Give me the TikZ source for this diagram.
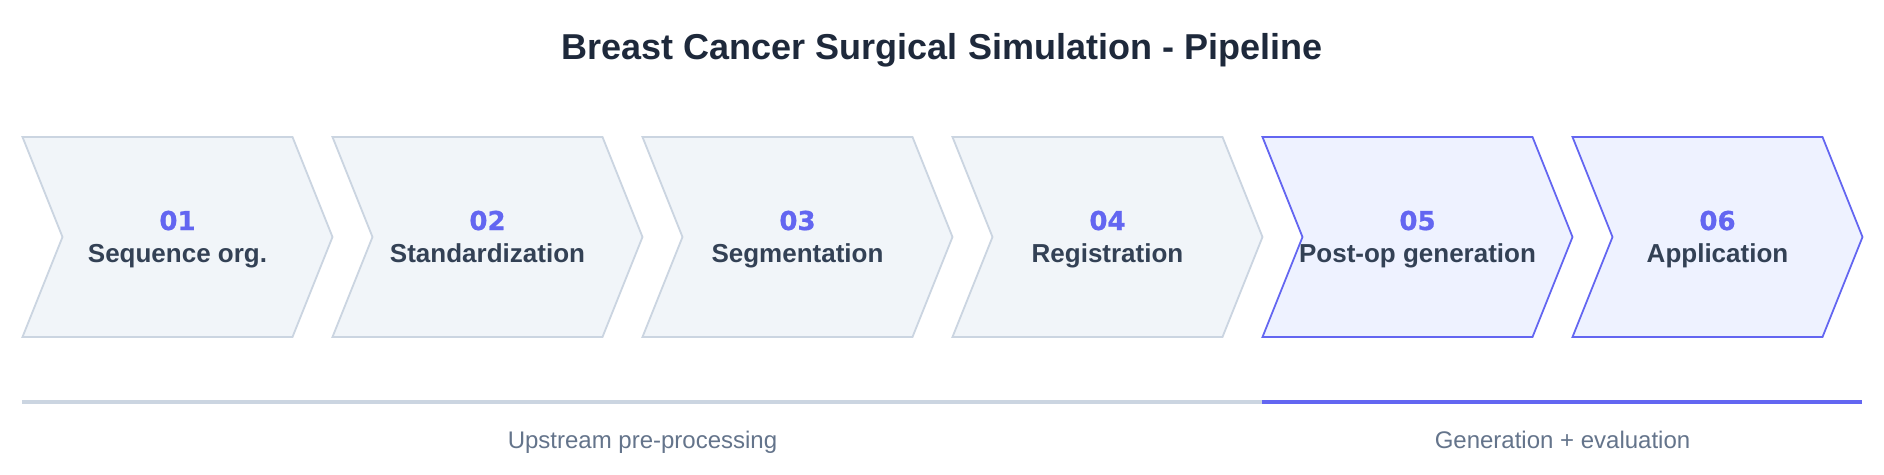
\documentclass[tikz,border=0pt]{standalone}
\usepackage{fontspec}
\setmainfont{Liberation Sans}
\newfontfamily\numfont[BoldFeatures={FakeBold=0.8}]{DejaVu Sans}
\definecolor{titlec}{HTML}{1E293B}
\definecolor{labelc}{HTML}{334155}
\definecolor{subc}{HTML}{64748B}
\definecolor{greyfill}{HTML}{F1F5F9}
\definecolor{greyline}{HTML}{CBD5E1}
\definecolor{bluefill}{HTML}{EEF2FF}
\definecolor{blueline}{HTML}{6366F1}
\tikzset{
  greychev/.style={fill=greyfill,draw=greyline,line width=1.8pt,line join=miter},
  bluechev/.style={fill=bluefill,draw=blueline,line width=1.8pt,line join=miter},
  numtxt/.style={anchor=base,text=blueline,font=\numfont\fontsize{26}{30}\selectfont\bfseries,inner sep=0pt},
  labtxt/.style={anchor=base,text=labelc,font=\fontsize{26}{30}\selectfont\bfseries,inner sep=0pt},
  subtxt/.style={anchor=base,text=subc,font=\fontsize{24}{28}\selectfont,inner sep=0pt},
}
\begin{document}
\begin{tikzpicture}[x=1pt,y=-1pt]
\useasboundingbox[fill=white] (0,0) rectangle (1884,474);
\node[anchor=base,text=titlec,font=\fontsize{36}{42}\selectfont\bfseries,inner sep=0pt] (title) at (942,59.5) {Breast Cancer Surgical Simulation - Pipeline};
% chevrons
\foreach \i/\num/\lab/\w/\sty in {0/01/Sequence org./310/greychev,1/02/Standardization/310/greychev,2/03/Segmentation/310/greychev,3/04/Registration/310/greychev,4/05/Post-op generation/310/bluechev,5/06/Application/290/bluechev}{
  \pgfmathsetmacro{\L}{22.5+310*\i}
  \draw[\sty] (\L,137) -- ({\L+\w-40},137) -- ({\L+\w},237) -- ({\L+\w-40},337) -- (\L,337) -- ({\L+40},237) -- cycle;
  \node[numtxt] (num\num) at ({\L+\w/2},230) {\num};
  \node[labtxt] (lab\num) at ({\L+\w/2},262) {\lab};
}
% phase bars
\coordinate (g0) at (22,402);
\coordinate (g1) at (1262,402);
\coordinate (b1) at (1862,402);
\draw[greyline,line width=3.5pt] (g0) -- (g1);
\draw[blueline,line width=3.5pt] (g1) -- (b1);
\node[subtxt] (up) at (642.5,448) {Upstream pre-processing};
\node[subtxt] (gen) at (1562.5,448) {Generation + evaluation};
\end{tikzpicture}
\end{document}
